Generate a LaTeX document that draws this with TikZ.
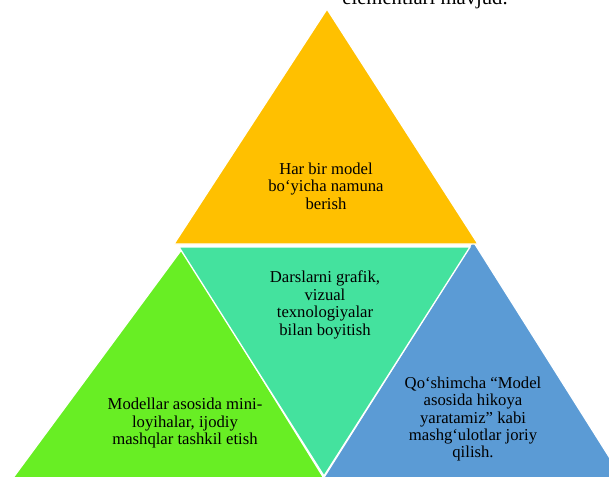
\documentclass[tikz,border=0pt]{standalone}
\usepackage{fontspec}
\setmainfont{Liberation Serif}
\definecolor{cyellow}{HTML}{FFC000}
\definecolor{cteal}{HTML}{44E29E}
\definecolor{cgreen}{HTML}{68EE24}
\definecolor{cblue}{HTML}{5B9BD5}
\tikzset{
  tri/.style={draw=white, line width=1pt, line join=miter},
  lbl/.style={align=center, font=\fontsize{12.5}{13.1}\selectfont, text=black, inner sep=0pt}
}
\begin{document}
\begin{tikzpicture}[x=0.75pt, y=-0.75pt]
\useasboundingbox (0,0) rectangle (609,476);
\clip (0,0) rectangle (609,476);
\fill[white] (0,0) rectangle (609,476);
% triangles
\filldraw[tri, fill=cgreen] (182,249) -- (-10,509) -- (343,509) -- cycle;
\filldraw[tri, fill=cblue] (473,241) -- (304,509) -- (642,509) -- cycle;
\filldraw[tri, fill=cteal] (179,247) -- (470,247) -- (324,476) -- cycle;
\filldraw[tri, fill=cyellow] (327,9) -- (174,244) -- (478,244) -- cycle;
% texts
\node[lbl, anchor=base, font=\fontsize{15.5}{16}\selectfont] (top) at (425,4) {elementlari mavjud.};
\node[lbl] (ty) at (326,186) {Har bir model\\bo‘yicha namuna\\berish};
\node[lbl] (tt) at (325,305) {Darslarni grafik,\\vizual\\texnologiyalar\\bilan boyitish};
\node[lbl] (tg) at (185,423) {Modellar asosida mini-\\loyihalar, ijodiy\\mashqlar tashkil etish};
\node[lbl] (tb) at (473,419) {Qo‘shimcha “Model\\asosida hikoya\\yaratamiz” kabi\\mashg‘ulotlar joriy\\qilish.};
\end{tikzpicture}
\end{document}
